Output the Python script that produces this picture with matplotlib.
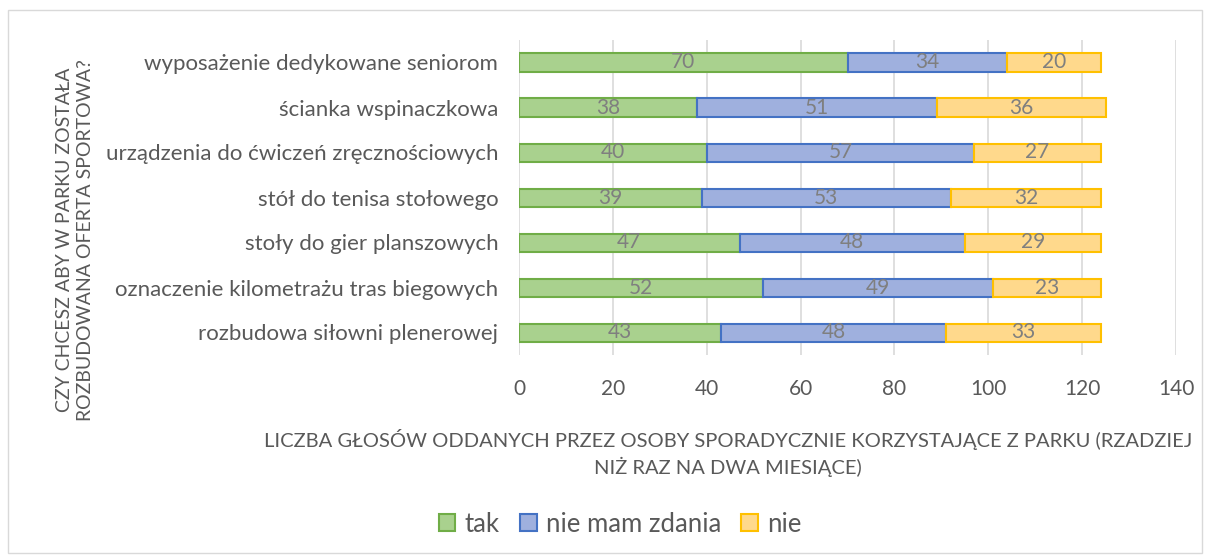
import numpy as np
import matplotlib.pyplot as plt
from matplotlib.patches import Rectangle

categories = ['wyposażenie dedykowane seniorom', 'ścianka wspinaczkowa',
              'urządzenia do ćwiczeń zręcznościowych', 'stół do tenisa stołowego',
              'stoły do gier planszowych', 'oznaczenie kilometrażu tras biegowych',
              'rozbudowa siłowni plenerowej']
tak = [70, 38, 40, 39, 47, 52, 43]
nie_mam_zdania = [34, 51, 57, 53, 48, 49, 48]
nie = [20, 36, 27, 32, 29, 23, 33]

plt.rcParams['font.family'] = ['Lato', 'DejaVu Sans']
gray = '#595959'

fig = plt.figure(figsize=(12.1, 5.57), dpi=100)
fig.patches.append(Rectangle((8/1210, 1-553/557), 1194/1210, 543/557, transform=fig.transFigure,
                             fill=False, edgecolor='#D9D9D9', lw=1))
ax = fig.add_axes([519/1210, 1-355/557, 657/1210, 315/557])

y = np.arange(len(categories))[::-1]
series = [('tak', tak, '#A9D18E', '#70AD47'),
          ('nie mam zdania', nie_mam_zdania, '#9FB0DE', '#4472C4'),
          ('nie', nie, '#FFD98C', '#FFC000')]
left = np.zeros(len(categories))
for name, vals, fc, ec in series:
    vals = np.array(vals)
    bars = ax.barh(y, vals, left=left, height=0.4, color=fc, edgecolor=ec, lw=1.5, label=name, zorder=3)
    for b, v, l in zip(bars, vals, left):
        ax.text(l + v/2, b.get_y() + b.get_height()/2, str(v), ha='center', va='center',
                color='#7F7F7F', fontsize=15, zorder=4)
    left = left + vals

ax.set_xlim(0, 140)
ax.set_ylim(-0.5, len(categories) - 0.5)
ax.set_xticks(range(0, 141, 20))
ax.set_yticks(y)
ax.set_yticklabels(categories)
ax.tick_params(axis='y', length=0, labelcolor=gray, labelsize=16, pad=15)
ax.tick_params(axis='x', length=0, labelcolor=gray, labelsize=15, pad=17)
ax.grid(axis='x', color='#D9D9D9', lw=1.2, zorder=0)
for s in ax.spines.values():
    s.set_visible(False)

fig.text(75/1210, 1-240/557, 'CZY CHCESZ ABY W PARKU ZOSTAŁA\nROZBUDOWANA OFERTA SPORTOWA?',
         rotation=90, ha='center', va='center', color=gray, fontsize=14, linespacing=1.25)
fig.text(728/1210, 1-453/557,
         'LICZBA GŁOSÓW ODDANYCH PRZEZ OSOBY SPORADYCZNIE KORZYSTAJĄCE Z PARKU (RZADZIEJ\nNIŻ RAZ NA DWA MIESIĄCE)',
         ha='center', va='center', color=gray, fontsize=14.5, linespacing=1.35)

leg = fig.legend(loc='center', bbox_to_anchor=(620/1210, 1-524/557), ncol=3, frameon=False,
                 fontsize=18.5, handlelength=0.65, handleheight=0.65, handletextpad=0.35, columnspacing=0.8)
for t in leg.get_texts():
    t.set_color(gray)

fig.savefig('out.png', dpi=100)
